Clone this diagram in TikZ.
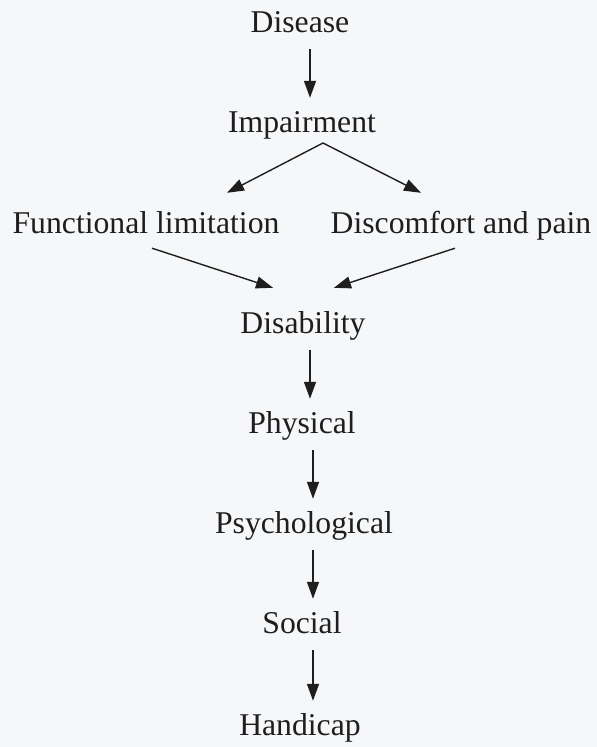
\documentclass[tikz,border=0pt]{standalone}
\usepackage{fontspec}
\setmainfont{Liberation Serif}
\usepackage{tikz}
\usetikzlibrary{arrows.meta}

\definecolor{paper}{RGB}{246,247,249}
\definecolor{ink}{RGB}{30,30,30}

\begin{document}
\begin{tikzpicture}[x=1pt, y=-1pt, inner sep=0pt]
            \fill[paper] (0,0) rectangle (597,747);
            \useasboundingbox (0,0) rectangle (597,747);

            \tikzstyle{myText}=[anchor=base, text=ink, font=\fontsize{31.7}{38}\selectfont, text height=22pt, text depth=7pt];
            \tikzstyle{myArr}=[draw=ink, line width=1.4pt, -{Triangle[length=17pt, width=12pt]}];
            \tikzstyle{myDown}=[myArr, shorten <=10pt, shorten >=12pt];

            \node[myText] (disease) at (300,32) {Disease};
            \node[myText] (impair) at (302,132) {Impairment};
            \node[myText] (funct) at (146,233) {Functional limitation};
            \node[myText] (pain) at (461,233) {Discomfort and pain};
            \node[myText] (disab) at (303,333) {Disability};
            \node[myText] (phys) at (302,433) {Physical};
            \node[myText] (psych) at (304,533) {Psychological};
            \node[myText] (social) at (302,633) {Social};
            \node[myText] (handi) at (300,735) {Handicap};

            \coordinate (split) at (323,143);

            \draw[myDown] ([xshift=10pt]disease.south) -- ([xshift=10pt]disease.south |- impair.north);
            \draw[myArr] (split) -- ([xshift=81pt, yshift=18pt]funct.north);
            \draw[myArr] (split) -- ([xshift=-40pt, yshift=18pt]pain.north);
            \draw[myArr] ([xshift=6pt, yshift=-8pt]funct.south) -- ([xshift=-30pt, yshift=23pt]disab.north);
            \draw[myArr] ([xshift=-6pt, yshift=-8pt]pain.south) -- ([xshift=31pt, yshift=23pt]disab.north);
            \draw[myDown] ([xshift=7pt]disab.south) -- ([xshift=7pt]disab.south |- phys.north);
            \draw[myDown] ([xshift=11pt]phys.south) -- ([xshift=11pt]phys.south |- psych.north);
            \draw[myDown] ([xshift=9pt]psych.south) -- ([xshift=9pt]psych.south |- social.north);
            \draw[myDown] ([xshift=11pt]social.south) -- ([xshift=11pt]social.south |- handi.north);
         \end{tikzpicture}
\end{document}
